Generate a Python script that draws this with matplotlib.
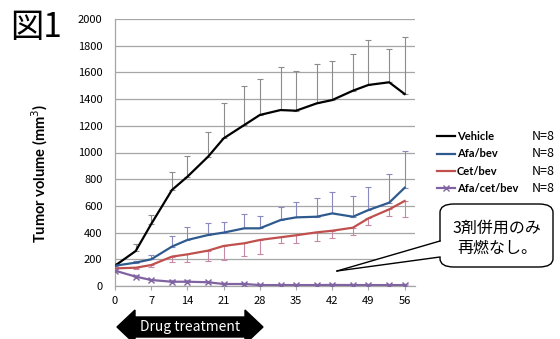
import numpy as np
import matplotlib as mpl
import matplotlib.pyplot as plt
from matplotlib.patches import FancyBboxPatch, Polygon

mpl.use('agg')

# data
days = [0, 4, 7, 11, 14, 18, 21, 25, 28, 32, 35, 39, 42, 46, 49, 53, 56]
vehicle = [152, 262, 464, 719, 819, 969, 1106, 1206, 1281, 1318, 1313, 1368, 1393, 1463, 1506, 1526, 1438]
vehicle_top = [175, 315, 532, 856, 974, 1156, 1373, 1498, 1551, 1638, 1613, 1660, 1683, 1738, 1843, 1773, 1867]
afa_bev = [152, 175, 200, 295, 345, 382, 400, 432, 432, 494, 514, 519, 544, 519, 569, 624, 736]
afa_bev_top = [165, 190, 232, 375, 440, 474, 482, 537, 527, 594, 627, 662, 706, 674, 739, 839, 1013]
cet_bev = [132, 137, 157, 220, 237, 265, 300, 320, 345, 365, 380, 402, 414, 437, 507, 574, 637]
cet_bev_low = [125, 130, 145, 177, 177, 187, 195, 227, 240, 320, 320, 337, 357, 382, 457, 524, 519]
afa_cet_bev = [115, 70, 45, 32, 32, 28, 15, 15, 7, 7, 7, 7, 8, 7, 7, 7, 7]
afa_cet_bev_top = [130, 82, 56, 44, 45, 38, 22, 22, 13, 12, 12, 12, 14, 12, 12, 12, 12]

labels = ['Vehicle', 'Afa/bev', 'Cet/bev', 'Afa/cet/bev']
n_text = 'N=8'
xticks = [0, 7, 14, 21, 28, 35, 42, 49, 56]
yticks = list(range(0, 2001, 200))

W, H = 560, 339


def px(x, y):
    # pixel position (from top-left) -> figure fraction
    return x / W, (H - y) / H


fig = plt.figure(figsize=(W / 100, H / 100), dpi=100)
ax = fig.add_axes([115 / W, 53 / H, 300 / W, 267 / H])

d = np.array(days)


def up(vals, tops):
    v = np.array(vals)
    return [np.zeros_like(v), np.array(tops) - v]


def down(vals, lows):
    v = np.array(vals)
    return [v - np.array(lows), np.zeros_like(v)]


eb = dict(elinewidth=0.8, capsize=2.2, capthick=0.8)
ax.errorbar(d, vehicle, yerr=up(vehicle, vehicle_top), color='black', lw=1.6,
            ecolor='#8c8c8c', label=labels[0], zorder=4, **eb)
ax.errorbar(d, afa_bev, yerr=up(afa_bev, afa_bev_top), color='#2f5a8e', lw=1.6,
            ecolor='#8a8ac0', label=labels[1], zorder=4, **eb)
ax.errorbar(d, cet_bev, yerr=down(cet_bev, cet_bev_low), color='#c0504d', lw=1.6,
            ecolor='#c888a8', label=labels[2], zorder=3, **eb)
ax.errorbar(d, afa_cet_bev, yerr=up(afa_cet_bev, afa_cet_bev_top), color='#8064a2', lw=1.6,
            ecolor='#b0a0cc', marker='x', ms=5, mew=1.0, label=labels[3], zorder=3, **eb)

ax.set_xlim(0, 58)
ax.set_ylim(0, 2000)
ax.set_xticks(xticks)
ax.set_yticks(yticks)
ax.grid(axis='y', color='#a6a6a6', lw=0.9)
ax.set_axisbelow(True)
for s in ['top', 'right']:
    ax.spines[s].set_visible(False)
for s in ['left', 'bottom']:
    ax.spines[s].set_color('#a6a6a6')
    ax.spines[s].set_linewidth(0.9)
ax.tick_params(axis='y', length=0, pad=9, labelsize=8)
ax.tick_params(axis='x', length=3, color='#a6a6a6', pad=4, labelsize=8)
for t in ax.get_xticklabels() + ax.get_yticklabels():
    t.set_fontfamily(['Noto Sans CJK JP', 'DejaVu Sans'])

fig.text(*px(40, 173), 'Tumor volume (mm$^3$)', rotation=90, ha='center', va='center',
         fontsize=10.5, fontweight='bold', family='Lato')

# title
fig.text(*px(10, 27), '図1', ha='left', va='center', fontsize=24,
         family=['Noto Sans CJK JP', 'DejaVu Sans'])

# legend
handles, labs = ax.get_legend_handles_labels()
handles = [h[0] for h in handles]
leg = fig.legend(handles, labs, loc='upper left', bbox_to_anchor=px(427, 121),
                 frameon=False, handlelength=1.6, handletextpad=0.2, labelspacing=0.58,
                 prop=dict(family='Lato', weight='bold', size=8))
fig.canvas.draw()
for t in leg.get_texts():
    bb = t.get_window_extent()
    yc = (bb.y0 + bb.y1) / 2 / fig.dpi / fig.get_figheight()
    fig.text(532 / W, yc, n_text, ha='left', va='center', fontsize=9,
             family=['Noto Sans CJK JP', 'DejaVu Sans'])

# callout bubble
bx0, by0, bx1, by1 = 440, 204, 553, 267
x0, y0 = px(bx0, by1)
x1, y1 = px(bx1, by0)
box = FancyBboxPatch((x0, y0), x1 - x0, y1 - y0, boxstyle='round,pad=0,rounding_size=0.025',
                     transform=fig.transFigure, fc='white', ec='black', lw=1.0, zorder=5)
fig.patches.append(box)
tip = px(337, 271)
b1 = px(bx0, 241)
b2 = px(bx0, 257)
fig.patches.append(Polygon([tip, px(bx0 + 2, 241), px(bx0 + 2, 257)], closed=True,
                           transform=fig.transFigure, fc='white', ec='none', zorder=6))
fig.lines.append(plt.Line2D([tip[0], b1[0]], [tip[1], b1[1]], transform=fig.transFigure,
                            color='black', lw=1.0, zorder=7))
fig.lines.append(plt.Line2D([tip[0], b2[0]], [tip[1], b2[1]], transform=fig.transFigure,
                            color='black', lw=1.0, zorder=7))
fig.text(*px(497, 238), '3剤併用のみ\n再燃なし。', ha='center', va='center', fontsize=11.5,
         linespacing=1.25, family=['Noto Sans CJK JP', 'DejaVu Sans'], zorder=8)

# drug treatment arrow
ay = 327
arrow_pts = [(117, ay), (135, ay - 17), (135, ay - 10), (245, ay - 10), (245, ay - 17),
             (263, ay), (245, ay + 17), (245, ay + 10), (135, ay + 10), (135, ay + 17)]
fig.patches.append(Polygon([px(x, y) for x, y in arrow_pts], closed=True,
                           transform=fig.transFigure, fc='black', ec='black', zorder=5))
fig.text(*px(190, ay), 'Drug treatment', ha='center', va='center', color='white',
         fontsize=10, family=['Noto Sans CJK JP', 'DejaVu Sans'], zorder=6)

fig.savefig('out.png', dpi=100)
